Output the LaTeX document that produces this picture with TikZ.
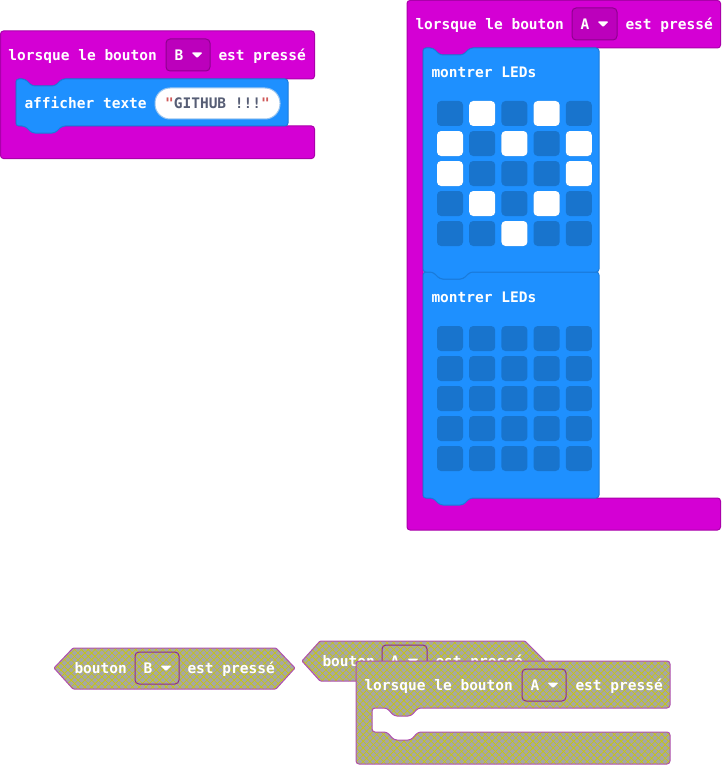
\documentclass[tikz,border=0pt]{standalone}
\usepackage{fontspec}
\newfontfamily\blockfont{DejaVu Sans Mono}
\usetikzlibrary{patterns.meta}

\definecolor{evtmag}{HTML}{D400D4}
\definecolor{evtedge}{HTML}{AA00AA}
\definecolor{dropfill}{HTML}{BC00BC}
\definecolor{dropedge}{HTML}{8F008F}
\definecolor{basicblue}{HTML}{1E90FF}
\definecolor{basicedge}{HTML}{1A7BDB}
\definecolor{ledoff}{HTML}{1874CD}
\definecolor{strtext}{HTML}{575E75}
\definecolor{strquote}{HTML}{D05A5A}
\definecolor{disgray}{HTML}{A6A6A6}
\definecolor{disline}{HTML}{C8C80A}
\definecolor{disedge}{HTML}{B050B0}
\definecolor{disdrop}{HTML}{8E2A8E}

\tikzset{
  evt/.style={fill=evtmag,draw=evtedge,rounded corners=3pt},
  stmt/.style={fill=basicblue,draw=basicedge,rounded corners=3pt},
  ddbox/.style={fill=dropfill,draw=dropedge,rounded corners=4pt},
  dis/.style={preaction={fill=disgray},pattern={Hatch[angle=45,distance=4.8pt,line width=0.6pt]},
    pattern color=disline,draw=disedge,rounded corners=3pt},
  disbox/.style={dis,draw=disdrop,rounded corners=4pt},
  lbl/.style={text=white,font=\blockfont\bfseries\fontsize{14.5}{16}\selectfont,inner sep=0pt,anchor=base west},
  arrowtri/.style={fill=white,rounded corners=1pt},
  led/.style={fill=ledoff,rounded corners=4pt},
  ledon/.style={fill=white,rounded corners=4pt}
}

\begin{document}
\begin{tikzpicture}[x=1pt,y=-1pt,line width=1pt]
  \useasboundingbox (0,0) rectangle (721,765);

  % quand B est presse
  \filldraw[evt] (0.5,31) -- (314.5,31) -- (314.5,79) -- (62,79) -- (55,86) -- (32,86) -- (25,79) -- (16,79)
    -- (16,126) -- (314.5,126) -- (314.5,158.5) -- (0.5,158.5) -- cycle;
  \filldraw[stmt] (16,79) -- (25,79) -- (32,86) -- (55,86) -- (62,79) -- (288,79) -- (288,126)
    -- (62,126) -- (55,133) -- (32,133) -- (25,126) -- (16,126) -- cycle;
  \node[lbl] (whenB) at (8,60.5) {lorsque le bouton};
  \filldraw[ddbox] (166,39) rectangle (210,71);
  \node[lbl] (keyB) at (174,60.5) {B};
  \fill[arrowtri] (191.5,52.5) -- (202.5,52.5) -- (197,58) -- cycle;
  \node[lbl] (pressB) at (218,60.5) {est pressé};
  \node[lbl] (showtxt) at (24,108.5) {afficher texte};
  \filldraw[fill=white,draw=basicedge!45,rounded corners=15pt] (155,88) rectangle (280,119);
  \node[lbl,text=strtext,anchor=base] (github) at (217.5,108.5) {\textcolor{strquote}{"}GITHUB !!!\textcolor{strquote}{"}};

  % quand A est presse
  \filldraw[evt] (407,0.5) -- (720.5,0.5) -- (720.5,48) -- (470,48) -- (463,55) -- (440,55) -- (433,48) -- (423,48)
    -- (423,498) -- (720.5,498) -- (720.5,530) -- (407,530) -- cycle;
  \filldraw[stmt] (423,272) -- (433,272) -- (440,279) -- (463,279) -- (470,272) -- (599,272) -- (599,498)
    -- (470,498) -- (463,505) -- (440,505) -- (433,498) -- (423,498) -- cycle;
  \filldraw[stmt] (423,48) -- (433,48) -- (440,55) -- (463,55) -- (470,48) -- (599,48) -- (599,272)
    -- (470,272) -- (463,279) -- (440,279) -- (433,272) -- (423,272) -- cycle;
  \node[lbl] (whenA) at (415,29.5) {lorsque le bouton};
  \filldraw[ddbox] (572,8) rectangle (617,40);
  \node[lbl] (keyA) at (580,29.5) {A};
  \fill[arrowtri] (597.5,21.5) -- (608.5,21.5) -- (603,27) -- cycle;
  \node[lbl] (pressA) at (625,29.5) {est pressé};
  \node[lbl] (leds1) at (431,77.5) {montrer LEDs};
  \node[lbl] (leds2) at (431,302.5) {montrer LEDs};
  \foreach \c in {0,...,4}
    \foreach \r in {0,...,4} {
      \fill[led] (437+32.2*\c,101+30*\r) rectangle ++(26,25);
      \fill[led] (437+32.2*\c,326+30*\r) rectangle ++(26,25);
    }
  \foreach \c/\r in {1/0,3/0,0/1,2/1,4/1,0/2,4/2,1/3,3/3,2/4}
    \fill[ledon] (437+32.2*\c,101+30*\r) rectangle ++(26,25);

  % blocs desactives
  \path[dis,rounded corners=1pt] (54,668) -- (73,648) -- (276,648) -- (295,668) -- (276,689) -- (73,689) -- cycle;
  \node[lbl] (btnB) at (74,673.5) {bouton};
  \path[disbox] (135,652) rectangle (179,684);
  \node[lbl] (offB) at (143,673.5) {B};
  \fill[arrowtri] (160.5,665.5) -- (171.5,665.5) -- (166,671) -- cycle;
  \node[lbl] (offpressB) at (187,673.5) {est pressé};

  \path[dis,rounded corners=1pt] (302,661) -- (320,641) -- (525,641) -- (545,661) -- (525,681) -- (320,681) -- cycle;
  \node[lbl] (btnA) at (322,666.5) {bouton};
  \path[disbox] (382,645) rectangle (427,677);
  \node[lbl] (offA) at (390,666.5) {A};
  \fill[arrowtri] (407.5,658.5) -- (418.5,658.5) -- (413,664) -- cycle;
  \node[lbl] (offpressA) at (435,666.5) {est pressé};

  \path[dis] (356,661) -- (670,661) -- (670,708) -- (418,708) -- (411,716) -- (394,716) -- (387,708) -- (372,708)
    -- (372,732) -- (387,732) -- (394,740) -- (411,740) -- (418,732) -- (670,732) -- (670,764) -- (356,764) -- cycle;
  \node[lbl] (offwhenA) at (364,690.5) {lorsque le bouton};
  \path[disbox] (522,669) rectangle (566,701);
  \node[lbl] (offkeyA) at (530,690.5) {A};
  \fill[arrowtri] (547.5,682.5) -- (558.5,682.5) -- (553,688) -- cycle;
  \node[lbl] (offwhenpress) at (575,690.5) {est pressé};
\end{tikzpicture}
\end{document}
